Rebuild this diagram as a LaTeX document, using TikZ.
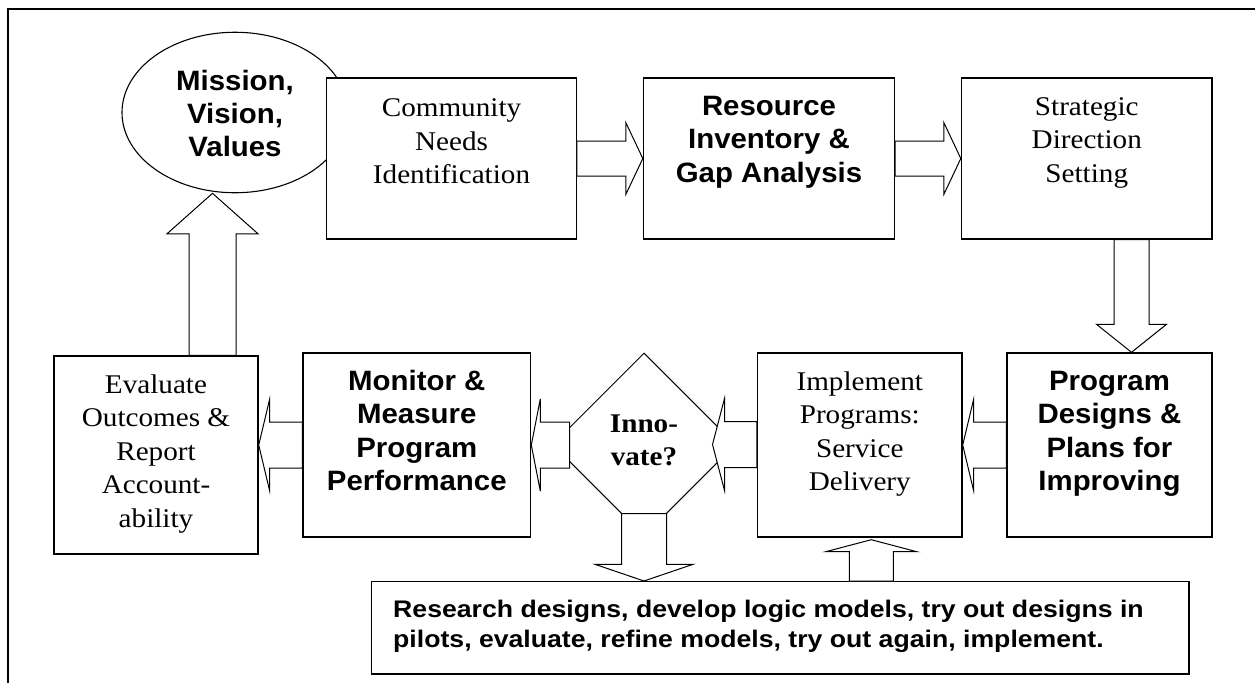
\documentclass[tikz,border=0pt]{standalone}
\usepackage{fontspec}
\setmainfont{Liberation Serif}[FakeStretch=1.08]
\newfontfamily\bigsans{Liberation Sans}[FakeStretch=1.05]
\newfontfamily\smallsans{Liberation Sans}[FakeStretch=1.11]
\usetikzlibrary{shapes.geometric,calc}
\newcommand{\fstrut}{\rule{0pt}{24pt}}
% block arrows: #1 start, #2 tip, #3 head length, #4 shaft half width, #5 head half width
\newcommand{\arrR}[5]{\draw[barrow] let \p1=(#1), \p2=(#2) in (\x1,\y2+#4) -- (\x2-#3,\y2+#4) -- (\x2-#3,\y2+#5) -- (\x2,\y2) -- (\x2-#3,\y2-#5) -- (\x2-#3,\y2-#4) -- (\x1,\y2-#4) -- cycle;}
\newcommand{\arrL}[5]{\draw[barrow] let \p1=(#1), \p2=(#2) in (\x1,\y2+#4) -- (\x2+#3,\y2+#4) -- (\x2+#3,\y2+#5) -- (\x2,\y2) -- (\x2+#3,\y2-#5) -- (\x2+#3,\y2-#4) -- (\x1,\y2-#4) -- cycle;}
\newcommand{\arrD}[5]{\draw[barrow] let \p1=(#1), \p2=(#2) in (\x2-#4,\y1) -- (\x2-#4,\y2+#3) -- (\x2-#5,\y2+#3) -- (\x2,\y2) -- (\x2+#5,\y2+#3) -- (\x2+#4,\y2+#3) -- (\x2+#4,\y1) -- cycle;}
\newcommand{\arrU}[5]{\draw[barrow] let \p1=(#1), \p2=(#2) in (\x2-#4,\y1) -- (\x2-#4,\y2-#3) -- (\x2-#5,\y2-#3) -- (\x2,\y2) -- (\x2+#5,\y2-#3) -- (\x2+#4,\y2-#3) -- (\x2+#4,\y1) -- cycle;}
\begin{document}
\begin{tikzpicture}[x=1pt,y=-1pt,
  box/.style={draw, line width=1.4pt, fill=white, inner sep=0pt},
  barrow/.style={draw, line width=1pt, fill=white, line join=miter},
  txt/.style={inner sep=0pt, align=center, anchor=north},
  serift/.style={txt, font=\fontsize{27}{33.5}\selectfont},
  sanst/.style={txt, font=\bigsans\bfseries\fontsize{28}{33.5}\selectfont}]
\useasboundingbox (0,0) rectangle (1255,683);
\fill[white] (0,0) rectangle (1255,683);
% frame
\coordinate (fbl) at (8,683);
\coordinate (ftl) at (8,9);
\coordinate (ftr) at (1255,9);
\draw[line width=2pt] (fbl) -- (ftl) -- (ftr);
% ellipse
\node[ellipse, draw, line width=1.1pt, fill=white, minimum width=226pt, minimum height=160.5pt, inner sep=0pt] (mvv) at (235,112.5) {};
\node[txt, font=\bigsans\bfseries\fontsize{28}{33}\selectfont] (mvvT) at (235,66.7) {\fstrut Mission,\\Vision,\\Values};
% top row boxes
\node[box, minimum width=249.5pt, minimum height=161pt] (comm) at (451.5,158.5) {};
\node[serift] (commT) at (451.5,92.7) {\fstrut Community\\Needs\\Identification};
\node[box, minimum width=251pt, minimum height=161pt] (res) at (769,158.5) {};
\node[sanst] (resT) at (769,91) {\fstrut Resource\\Inventory \&\\Gap Analysis};
\node[box, minimum width=250.5pt, minimum height=161pt] (strat) at (1086.75,158.5) {};
\node[serift] (stratT) at (1086.75,91) {\fstrut Strategic\\Direction\\Setting};
% bottom row
\node[box, minimum width=205pt, minimum height=184pt] (prog) at (1109.5,445) {};
\node[sanst] (progT) at (1109.5,366) {\fstrut Program\\Designs \&\\Plans for\\Improving};
\node[box, minimum width=204.5pt, minimum height=184pt] (impl) at (859.75,445) {};
\node[serift] (implT) at (859.75,366) {\fstrut Implement\\Programs:\\Service\\Delivery};
\node[diamond, draw, line width=1pt, fill=white, minimum width=183pt, minimum height=183pt, inner sep=0pt] (innov) at (644,444.5) {};
\node[txt, font=\bfseries\fontsize{27}{33}\selectfont] (innovT) at (644,408) {\fstrut Inno-\\vate?};
\node[box, minimum width=227.6pt, minimum height=184pt] (mon) at (416.8,445) {};
\node[sanst] (monT) at (416.8,366) {\fstrut Monitor \&\\Measure\\Program\\Performance};
\node[box, minimum width=204pt, minimum height=198pt] (eval) at (156,455) {};
\node[serift] (evalT) at (156,369) {\fstrut Evaluate\\Outcomes \&\\Report\\Account-\\ability};
% research box
\node[box, minimum width=817.5pt, minimum height=92.3pt] (rb) at (780.25,627.85) {};
\node[txt, anchor=north west, align=left, font=\smallsans\bfseries\fontsize{24}{30.4}\selectfont] (rbT) at (393,593.3)
  {\fstrut Research designs, develop logic models, try out designs in\\pilots, evaluate, refine models, try out again, implement.};
% coordinates for arrow ends
\coordinate (sdtip) at ($(prog.north)+(22,0)$);
\coordinate (iitip) at ($(innov.east)+(-23.5,0)$);
\coordinate (imstart) at ($(innov.west)+(17.5,0)$);
\coordinate (ddstart) at ($(innov.south)+(0,-23)$);
\coordinate (uptip) at ($(impl.south)+(11.5,2)$);
\coordinate (mvtip) at ($(mvv.south)+(-22.5,0)$);
% arrows
\arrR{comm.east}{res.west}{17pt}{17.5pt}{36pt}
\arrR{res.east}{strat.west}{17pt}{17.5pt}{36pt}
\arrD{strat.south}{sdtip}{28pt}{17.5pt}{35pt}
\arrL{prog.west}{impl.east}{11pt}{23pt}{46pt}
\arrL{impl.west}{iitip}{12pt}{23pt}{46pt}
\arrL{imstart}{mon.east}{9pt}{23pt}{46pt}
\arrL{mon.west}{eval.east |- mon.west}{11pt}{23pt}{46pt}
\arrD{ddstart}{innov.south |- rb.north}{16.7pt}{22.5pt}{49pt}
\arrU{uptip |- rb.north}{uptip}{12pt}{22pt}{45.5pt}
\arrU{mvtip |- eval.north}{mvtip}{40.5pt}{23.5pt}{45.5pt}
\end{tikzpicture}
\end{document}
